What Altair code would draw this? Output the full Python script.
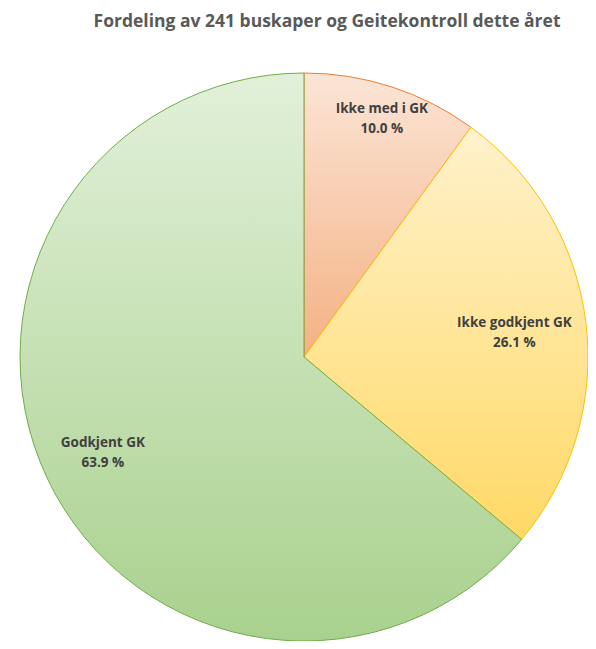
import altair as alt
import pandas as pd

categories = ["Ikke med i GK", "Ikke godkjent GK", "Godkjent GK"]
shares = [10.0, 26.1, 63.9]
order = [0, 1, 2]

title_text = "Fordeling av 241 buskaper og Geitekontroll dette året"

top_colors = ["#fbe5d6", "#fff2cc", "#e2f0d9"]
bottom_colors = ["#f4b183", "#ffd966", "#a9d18e"]
stroke_colors = ["#ed7d31", "#ffc000", "#70ad47"]
label_radius = [252, 212, 222]

df = pd.DataFrame({"cat": categories, "share": shares, "ord": order})

W, H = 580, 633
CX, CY = 296, 349
R = 284

base = (
    alt.Chart(df)
    .transform_window(end="sum(share)", sort=[alt.SortField("ord")], frame=[None, 0])
    .transform_calculate(start="datum.end - datum.share")
)

theta_scale = alt.Scale(domain=[0, 100], range=[0, 6.283185307179586])

layers = []
for i, c in enumerate(categories):
    grad = alt.Gradient(
        gradient="linear", x1=0, y1=0, x2=0, y2=1,
        stops=[alt.GradientStop(offset=0, color=top_colors[i]),
               alt.GradientStop(offset=1, color=bottom_colors[i])],
    )
    layers.append(
        base.transform_filter(alt.datum.cat == c)
        .mark_arc(fill=grad, stroke=stroke_colors[i], strokeWidth=1, outerRadius=R)
        .encode(
            theta=alt.Theta("start:Q", scale=theta_scale),
            theta2="end:Q",
            x=alt.value(CX), y=alt.value(CY),
        )
    )

for i, c in enumerate(categories):
    layers.append(
        base.transform_filter(alt.datum.cat == c)
        .transform_calculate(
            mid="datum.start + datum.share / 2",
            lbl="[datum.cat, format(datum.share, '.1f') + ' %']",
        )
        .mark_text(font="Open Sans", fontSize=13.5, fontWeight="bold",
                   color="#404040", lineHeight=20, align="center", baseline="middle",
                   radius=label_radius[i], dy=-8)
        .encode(
            theta=alt.Theta("mid:Q", scale=theta_scale),
            text="lbl:N",
            x=alt.value(CX), y=alt.value(CY),
        )
    )

title_df = pd.DataFrame({"t": [title_text]})
layers.append(
    alt.Chart(title_df).mark_text(
        font="Open Sans", fontSize=17.5, fontWeight="bold", color="#595959",
        align="center", baseline="alphabetic",
    ).encode(text="t:N", x=alt.value(319), y=alt.value(19))
)

chart = alt.layer(*layers).properties(
    width=W, height=H, padding=0, autosize=alt.AutoSizeParams(type="none")
).configure_view(stroke=None)

chart.save("out.html", embed_options={"renderer": "svg", "actions": False})
